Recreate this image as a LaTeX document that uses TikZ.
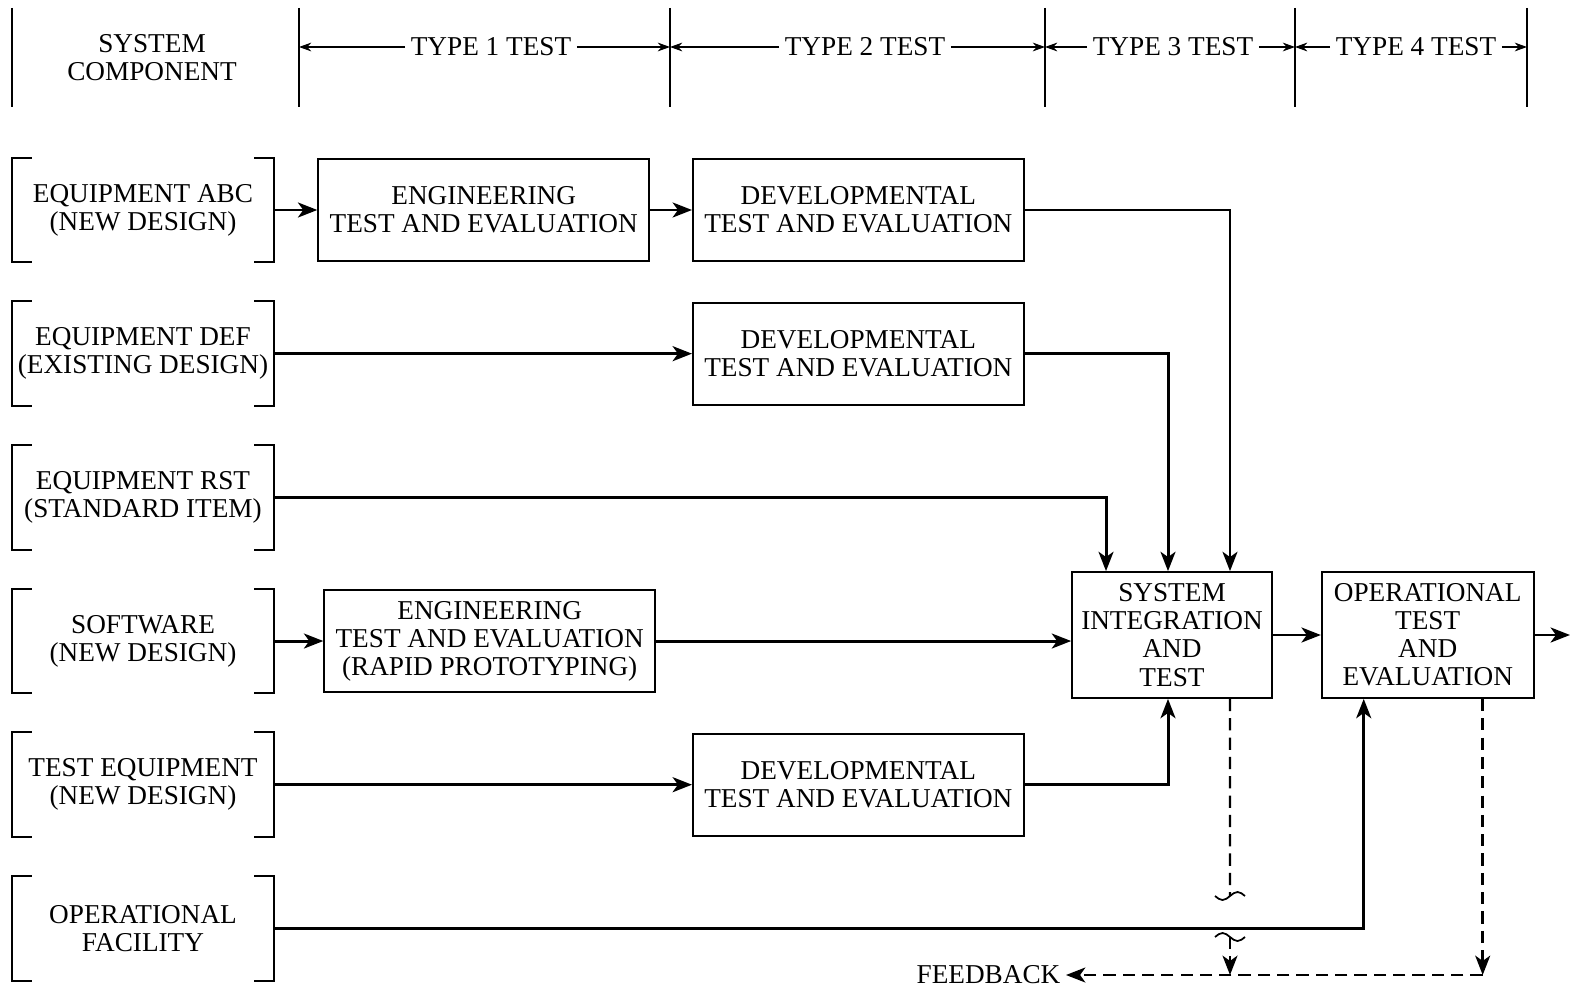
\documentclass[tikz,border=0pt]{standalone}
\usepackage{fontspec}
\setmainfont{Liberation Serif}
\usetikzlibrary{positioning,arrows.meta}
\tikzset{mytext/.style={
  align=center,
  font=\fontsize{15.5}{16}\selectfont,
  inner sep=3pt,
  }
}
\tikzset{mycomp/.style={
  mytext,
  minimum width=5.24cm,
  minimum height=2.08cm,
  }
}
\tikzset{mybox/.style={
  mytext,
  shape=rectangle,
  draw=black,
  line width=1pt,
  minimum width=6.62cm,
  minimum height=2.04cm,
  inner sep=2pt,
  }
}
\tikzset{mysys/.style={
  mybox,
  minimum width=4cm,
  minimum height=2.52cm,
  }
}
\tikzset{myline/.style={
  line width=1.7pt,
  -{Stealth[length=11pt,width=8.5pt,inset=3pt]},
  }
}
\tikzset{mydash/.style={
  myline,
  line width=1.4pt,
  dash pattern=on 7pt off 4pt,
  }
}
\tikzset{mydim/.style={
  line width=0.6pt,
  -{Stealth[length=7pt,width=5pt]},
  }
}
\begin{document}
\begin{tikzpicture}[x=0.02cm, y=-0.02cm]
      \useasboundingbox (0,0) rectangle (1572,990);

      \coordinate (v0) at (12,8);
      \coordinate (v1) at (299,8);
      \coordinate (v2) at (670,8);
      \coordinate (v3) at (1045,8);
      \coordinate (v4) at (1295,8);
      \coordinate (v5) at (1527,8);
      \foreach \v in {v0,v1,v2,v3,v4,v5}
        \draw[line width=0.8pt] (\v) -- ++(0,99);

      \node[mytext] (sc) at (152,58) {SYSTEM\\COMPONENT};
      \node[mytext] (t1) at (491,47) {TYPE 1 TEST};
      \node[mytext] (t2) at (865,47) {TYPE 2 TEST};
      \node[mytext] (t3) at (1173,47) {TYPE 3 TEST};
      \node[mytext] (t4) at (1416,47) {TYPE 4 TEST};

      \draw[mydim] (t1.west) -- (t1 -| v1);
      \draw[mydim] (t1.east) -- (t1 -| v2);
      \draw[mydim] (t2.west) -- (t2 -| v2);
      \draw[mydim] (t2.east) -- (t2 -| v3);
      \draw[mydim] (t3.west) -- (t3 -| v3);
      \draw[mydim] (t3.east) -- (t3 -| v4);
      \draw[mydim] (t4.west) -- (t4 -| v4);
      \draw[mydim] (t4.east) -- (t4 -| v5);

      \node[mycomp] (abc) at (143,210) {EQUIPMENT ABC\\(NEW DESIGN)};
      \node[mycomp, below=0.78cm of abc] (def) {EQUIPMENT DEF\\(EXISTING DESIGN)};
      \node[mycomp, below=0.78cm of def] (rst) {EQUIPMENT RST\\(STANDARD ITEM)};
      \node[mycomp, below=0.78cm of rst] (sw) {SOFTWARE\\(NEW DESIGN)};
      \node[mycomp, below=0.78cm of sw] (teq) {TEST EQUIPMENT\\(NEW DESIGN)};
      \node[mycomp, below=0.78cm of teq] (fac) {OPERATIONAL\\FACILITY};
      \foreach \n in {abc,def,rst,sw,teq,fac} {
        \draw[line width=1pt] ([xshift=0.4cm]\n.north west) -| (\n.south west) -- ++(20,0);
        \draw[line width=1pt] ([xshift=-0.4cm]\n.north east) -| (\n.south east) -- ++(-20,0);
      }

      \node[mybox, right=0.86cm of abc] (eng1) {ENGINEERING\\TEST AND EVALUATION};
      \node[mybox, right=0.84cm of eng1] (dev1) {DEVELOPMENTAL\\TEST AND EVALUATION};
      \node[mybox] (dev2) at (dev1 |- def) {DEVELOPMENTAL\\TEST AND EVALUATION};
      \node[mybox, right=0.98cm of sw] (eng2) {ENGINEERING\\TEST AND EVALUATION\\(RAPID PROTOTYPING)};
      \node[mybox] (dev3) at (dev1 |- teq) {DEVELOPMENTAL\\TEST AND EVALUATION};

      \node[mysys] (sit) at (1172,635) {SYSTEM\\INTEGRATION\\AND\\TEST};
      \node[mysys, minimum width=4.24cm, right=0.96cm of sit] (ote) {OPERATIONAL\\TEST\\AND\\EVALUATION};
      \coordinate (out) at (1570,635);

      \draw[myline] (abc) -- (eng1);
      \draw[myline] (eng1) -- (dev1);
      \draw[myline] (dev1.east) -| ([xshift=1.16cm]sit.north);
      \draw[myline] (def) -- (dev2);
      \draw[myline] (dev2.east) -| ([xshift=-0.08cm]sit.north);
      \draw[myline] (rst.east) -| ([xshift=-1.32cm]sit.north);
      \draw[myline] (sw) -- (eng2);
      \draw[myline] (eng2.east) -- (eng2.east -| sit.west);
      \draw[myline] (teq) -- (dev3);
      \draw[myline] (dev3.east) -| ([xshift=-0.08cm]sit.south);
      \draw[myline] (fac.east) -| ([xshift=-1.28cm]ote.south);
      \draw[myline] (sit) -- (ote);
      \draw[myline] (ote.east) -- (out);

      % feedback
      \node[mytext, anchor=east] (fb) at (1066,975) {FEEDBACK};
      \coordinate (brk1) at (1230,896);
      \coordinate (brk2) at (1230,937);
      \draw[mydash, -] ([xshift=1.16cm]sit.south) -- (brk1);
      \draw[line width=1pt] (brk1) ++(-15,0) sin ++(7.5,4) cos ++(7.5,-4) sin ++(7.5,-4) cos ++(7.5,4);
      \draw[line width=1pt] (brk2) ++(-15,0) sin ++(7.5,-4) cos ++(7.5,4) sin ++(7.5,4) cos ++(7.5,-4);
      \draw[mydash] (brk2) -- (brk2 |- fb);
      \draw[mydash] ([xshift=1.1cm]ote.south) -- ([xshift=1.1cm]ote.south |- fb);
      \draw[mydash] ([xshift=1.1cm]ote.south |- fb) -- (fb);
\end{tikzpicture}
\end{document}
